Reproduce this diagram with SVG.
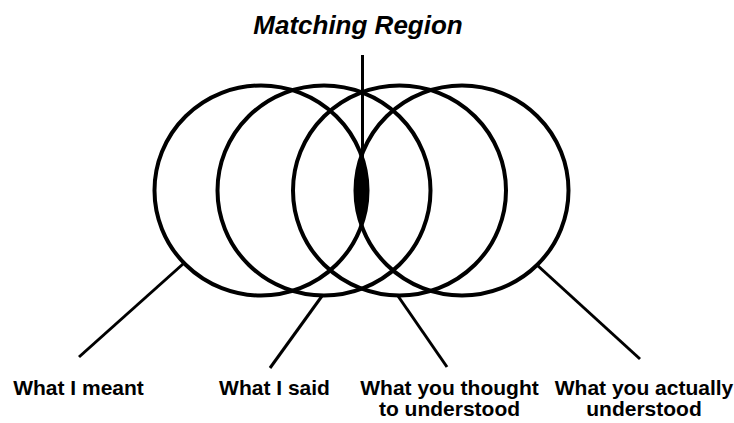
<svg xmlns="http://www.w3.org/2000/svg" width="734" height="423" viewBox="0 0 734 423">
<style>
.c{fill:none;stroke:#000;stroke-width:4}
.l{stroke:#000;stroke-width:3;fill:none}
.t{font-family:"Liberation Sans",Arial,sans-serif;font-weight:bold;font-size:21px;fill:#000;text-anchor:middle}
.title{font-family:"Liberation Sans",Arial,sans-serif;font-weight:bold;font-style:italic;font-size:26px;fill:#000;text-anchor:middle}
</style>
<rect width="734" height="423" fill="#fff"/>
<g id="matching-region">
<path d="M361.5 155.8 A106.5 105 0 0 1 361.5 225.2 A106.5 105 0 0 1 361.5 155.8 Z" fill="#000"/>
<text class="title" x="358" y="34">Matching Region</text>
</g>
<g id="what-i-meant">
<ellipse class="c" cx="261" cy="190.5" rx="106.5" ry="105"/>
<text class="t" x="78.5" y="394.5">What I meant</text>
</g>
<g id="what-i-said">
<ellipse class="c" cx="324" cy="190.5" rx="106.5" ry="105"/>
<text class="t" x="274.5" y="394.5">What I said</text>
</g>
<g id="what-you-thought">
<ellipse class="c" cx="399.5" cy="190.5" rx="106.5" ry="105"/>
<text class="t" x="449.5" y="394.5">What you thought</text>
<text class="t" x="449.5" y="416">to understood</text>
</g>
<g id="what-you-actually">
<ellipse class="c" cx="462" cy="190.5" rx="106.5" ry="105"/>
<text class="t" x="644" y="394.5">What you actually</text>
<text class="t" x="644" y="416">understood</text>
</g>
<g id="connectors">
<line class="l" x1="362.5" y1="55" x2="362.5" y2="158"/>
<line class="l" x1="183" y1="264" x2="79" y2="357"/>
<line class="l" x1="322" y1="296" x2="270" y2="368"/>
<line class="l" x1="398" y1="296" x2="447" y2="367"/>
<line class="l" x1="537" y1="265" x2="640" y2="359"/>
</g>
</svg>
